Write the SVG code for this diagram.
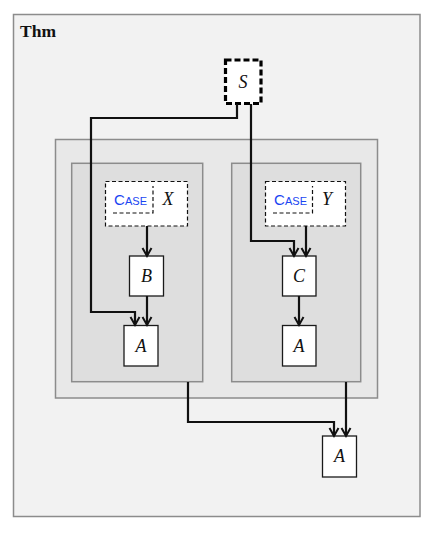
<svg xmlns="http://www.w3.org/2000/svg" width="433" height="533" viewBox="0 0 433 533">
<style>
.cont{stroke:#8c8c8c;stroke-width:1.5}
.node{fill:#fff;stroke:#1a1a1a;stroke-width:1.3}
.math{font-family:"Liberation Serif","DejaVu Serif",serif;font-style:italic;font-size:18px;fill:#111;text-anchor:middle}
.conn{fill:none;stroke:#111;stroke-width:2.2;marker-end:url(#arr)}
.case{font-family:"Liberation Sans","DejaVu Sans",sans-serif;fill:#1a45f2}
</style>
<defs>
<marker id="arr" markerUnits="userSpaceOnUse" markerWidth="14" markerHeight="14" viewBox="-10 -7 14 14" refX="0" refY="0" orient="auto">
<path d="M-8,-4.5 L0,0 L-8,4.5" fill="none" stroke="#111" stroke-width="2"/>
</marker>
</defs>
<g id="thm">
<rect x="13.5" y="14.5" width="406.5" height="502" fill="#f2f2f2" class="cont"/>
<text x="20" y="36.5" font-family="Liberation Serif,DejaVu Serif,serif" font-weight="bold" font-size="17.5" fill="#111">Thm</text>
</g>
<g id="group-middle">
<rect x="55.5" y="139.5" width="322" height="258.5" fill="#e8e8e8" class="cont"/>
</g>
<g id="group-left">
<rect x="71.7" y="163.3" width="131" height="218.4" fill="#dedede" class="cont"/>
</g>
<g id="group-right">
<rect x="231.7" y="163.3" width="129" height="218.4" fill="#dedede" class="cont"/>
</g>
<g id="node-S">
<rect x="225.5" y="60" width="35.5" height="43.5" fill="#fff" stroke="#000" stroke-width="3.2" stroke-dasharray="6,3"/>
<text x="243" y="88" class="math">S</text>
</g>
<g id="node-caseX">
<rect x="105.5" y="181.5" width="82" height="44.5" fill="#fff" stroke="#111" stroke-width="1.2" stroke-dasharray="4,2.5"/>
<path d="M113,213 H153 V186" fill="none" stroke="#111" stroke-width="1.2" stroke-dasharray="4,2.5"/>
<text x="114" y="205" class="case" textLength="33" lengthAdjust="spacing"><tspan font-size="15">C</tspan><tspan font-size="11">ASE</tspan></text>
<text x="168" y="205" class="math">X</text>
</g>
<g id="node-caseY">
<rect x="265.5" y="181.5" width="80" height="44.5" fill="#fff" stroke="#111" stroke-width="1.2" stroke-dasharray="4,2.5"/>
<path d="M273,213 H312.5 V186" fill="none" stroke="#111" stroke-width="1.2" stroke-dasharray="4,2.5"/>
<text x="274" y="205" class="case" textLength="33" lengthAdjust="spacing"><tspan font-size="15">C</tspan><tspan font-size="11">ASE</tspan></text>
<text x="327" y="205" class="math">Y</text>
</g>
<g id="node-B">
<rect x="129.5" y="256" width="34" height="40" class="node"/>
<text x="146.5" y="282" class="math">B</text>
</g>
<g id="node-A1">
<rect x="124" y="325.5" width="34" height="40.5" class="node"/>
<text x="141" y="352" class="math">A</text>
</g>
<g id="node-C">
<rect x="282.5" y="256" width="33.5" height="40" class="node"/>
<text x="299" y="282" class="math">C</text>
</g>
<g id="node-A2">
<rect x="282.5" y="325.5" width="33.5" height="40.5" class="node"/>
<text x="299" y="352" class="math">A</text>
</g>
<g id="node-A3">
<rect x="322.5" y="436" width="34" height="41" class="node"/>
<text x="339.5" y="462" class="math">A</text>
</g>
<g id="connectors">
<path class="conn" d="M237,104 V118 H91 V312 H135 V325"/>
<path class="conn" d="M251,104 V241 H294 V256"/>
<path class="conn" d="M147,226 V256"/>
<path class="conn" d="M147,296 V325"/>
<path class="conn" d="M306,226 V256"/>
<path class="conn" d="M299,296 V325"/>
<path class="conn" d="M188,382 V422 H334 V436"/>
<path class="conn" d="M346,382 V436"/>
</g>
</svg>
